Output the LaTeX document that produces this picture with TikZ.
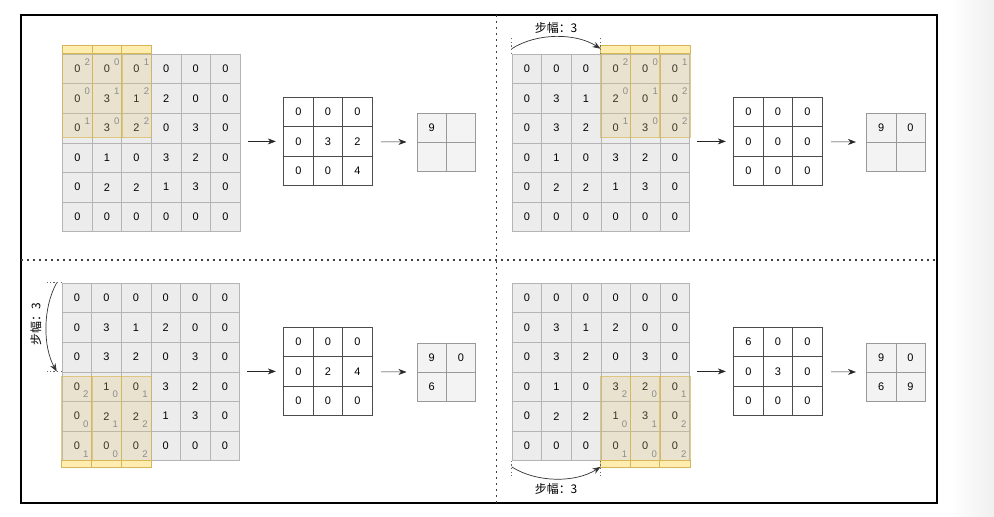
\documentclass[tikz,border=0pt]{standalone}
\usepackage{fontspec}
\setmainfont{Liberation Sans}
\newfontfamily\cjk{Noto Sans CJK SC}
\usetikzlibrary{arrows.meta, positioning, calc, fit}

\definecolor{cellgray}{RGB}{236,236,236}
\definecolor{cellline}{RGB}{180,180,180}
\definecolor{kfill}{RGB}{222,200,125}
\definecolor{khead}{RGB}{255,236,175}
\definecolor{kline}{RGB}{214,182,86}
\definecolor{outgray}{RGB}{243,243,243}

\tikzset{
  incell/.style={draw=cellline, fill=cellgray, minimum size=7.4mm, inner sep=0pt, font=\fontsize{7.8}{8}\selectfont},
  prodcell/.style={draw=black!70, fill=white, line width=0.6pt, minimum size=7.4mm, inner sep=0pt, font=\fontsize{7.8}{8}\selectfont},
  outcell/.style={draw=black!40, fill=outgray, minimum size=7.33mm, inner sep=0pt, font=\fontsize{7.8}{8}\selectfont},
  wt/.style={text=black!45, font=\fontsize{6.8}{7}\selectfont, inner sep=0pt},
  kbody/.style={draw=kline, draw opacity=0.7, fill=kfill, fill opacity=0.26},
  khead/.style={draw=kline, fill=khead},
  grp/.style={inner sep=0pt},
  arr/.style={->, black!85, shorten <=0.175cm, shorten >=0.175cm},
  arrb/.style={->, black!85, shorten <=0.2cm, shorten >=0.25cm},
  divider/.style={black!75, line width=0.8pt, dash pattern=on 0.05cm off 0.1cm},
  guide/.style={black!60, line width=0.6pt, dash pattern=on 0.03cm off 0.06cm},
  stridearc/.style={->, black!80, line width=0.5pt},
  stridelabel/.style={font=\cjk\fontsize{8.5}{9}\selectfont, inner sep=1pt}
}

% 6x6 input: name, left, top
\newcommand{\ingrid}[3]{%
  \foreach \row [count=\j] in {{0,0,0,0,0,0},{0,3,1,2,0,0},{0,3,2,0,3,0},{0,1,0,3,2,0},{0,2,2,1,3,0},{0,0,0,0,0,0}}
    \foreach \v [count=\i] in \row
      \node[incell] (#1-\i-\j) at (#2+29.6*\i-14.8, #3+29.6*\j-14.8) {\v};
  \node[fit=(#1-1-1)(#1-6-6), grp] (#1) {};
}
% 3x3 products: name, left, top, values
\newcommand{\prodgrid}[4]{%
  \foreach \row [count=\j] in {#4}
    \foreach \v [count=\i] in \row
      \node[prodcell] (#1-\i-\j) at (#2+29.6*\i-14.8, #3+29.6*\j-14.8) {\v};
  \node[fit=(#1-1-1)(#1-3-3), grp] (#1) {};
}
% 2x2 result: name, left, top, values
\newcommand{\outgrid}[4]{%
  \foreach \row [count=\j] in {#4}
    \foreach \v [count=\i] in \row
      \node[outcell] (#1-\i-\j) at (#2+29.3*\i-14.65, #3+29.3*\j-14.65) {\v};
  \node[fit=(#1-1-1)(#1-2-2), grp] (#1) {};
}
% kernel window, header on top: grid, first col, first row
\newcommand{\kerneltop}[3]{%
  \foreach \a in {0,1,2}{
    \pgfmathtruncatemacro\c{#2+\a}
    \pgfmathtruncatemacro\r{#3+2}
    \draw[kbody] ($(#1-\c-#3.north west)+(0,-8)$) rectangle ($(#1-\c-\r.south east)+(0,-6)$);
    \draw[khead] ($(#1-\c-#3.north west)+(0,-8)$) rectangle (#1-\c-#3.north east);
  }
  \foreach \wrow [count=\b] in {{2,0,1},{0,1,2},{1,0,2}}
    \foreach \w [count=\a] in \wrow {
      \pgfmathtruncatemacro\c{#2+\a-1}
      \pgfmathtruncatemacro\r{#3+\b-1}
      \node[wt] (#1-w-\a-\b) at ($(#1-\c-\r)+(10,-7)$) {\w};
    }
}
% kernel window, header below
\newcommand{\kernelbot}[3]{%
  \foreach \a in {0,1,2}{
    \pgfmathtruncatemacro\c{#2+\a}
    \pgfmathtruncatemacro\r{#3+2}
    \draw[kbody] ($(#1-\c-#3.north west)+(0,5)$) rectangle ($(#1-\c-\r.south east)+(0,6)$);
    \draw[khead] ($(#1-\c-\r.south west)+(0,-1)$) rectangle ($(#1-\c-\r.south east)+(0,6)$);
  }
  \foreach \wrow [count=\b] in {{2,0,1},{0,1,2},{1,0,2}}
    \foreach \w [count=\a] in \wrow {
      \pgfmathtruncatemacro\c{#2+\a-1}
      \pgfmathtruncatemacro\r{#3+\b-1}
      \node[wt] (#1-w-\a-\b) at ($(#1-\c-\r)+(9,8)$) {\w};
    }
}

\begin{document}
\begin{tikzpicture}[x=0.025cm, y=-0.025cm, >={Stealth[length=0.2cm, width=0.15cm]}]
  \useasboundingbox (0,0) rectangle (994,516);
  \shade[left color=white, right color=black!6] (950,0) rectangle (994,516);

  % frame and quarters
  \draw[line width=1.4pt] (20.7,14.7) rectangle (936.7,502.7);
  \draw[divider] (496.7,14.7) -- (496.7,502.7);
  \draw[divider] (20.7,260) -- (936.7,260);

  % top left
  \ingrid{tl}{62.5}{54}
  \kerneltop{tl}{1}{1}
  \prodgrid{tlp}{283.5}{97}{{0,0,0},{0,3,2},{0,0,4}}
  \outgrid{tlo}{417}{113}{{9,{}},{{},{}}}
  \draw[arr] (tl.east |- tlp.west) -- (tlp.west);
  \draw[arrb] (tlp) -- (tlo);

  % top right
  \ingrid{tr}{512}{54}
  \kerneltop{tr}{4}{1}
  \prodgrid{trp}{733.5}{97}{{0,0,0},{0,0,0},{0,0,0}}
  \outgrid{tro}{866.5}{113}{{9,0},{{},{}}}
  \draw[arr] (tr.east |- trp.west) -- (trp.west);
  \draw[arrb] (trp) -- (tro);
  % stride to the right
  \coordinate (trA) at ($(tr-1-1.north west)+(0,-5)$);
  \coordinate (trB) at ($(tr-4-1.north west)+(0,-5)$);
  \draw[guide] (tr-1-1.north west) -- ++(0,-17);
  \draw[guide] (tr-4-1.north west) -- ++(0,-17);
  \draw[stridearc] (trA) .. controls ($(trA)+(25,-16)$) and ($(trB)+(-25,-16)$) .. (trB);
  \node[stridelabel] (trl) at ($(trA)!.5!(trB)+(0,-21)$) {步幅：3};

  % bottom left
  \ingrid{bl}{62}{283}
  \kernelbot{bl}{1}{4}
  \prodgrid{blp}{283.5}{327}{{0,0,0},{0,2,4},{0,0,0}}
  \outgrid{blo}{417}{343}{{9,0},{6,{}}}
  \draw[arr] (bl.east |- blp.west) -- (blp.west);
  \draw[arrb] (blp) -- (blo);
  % stride downwards
  \coordinate (blA) at ($(bl-1-1.north west)+(-5,0)$);
  \coordinate (blB) at ($(bl-1-4.north west)+(-5,0)$);
  \draw[guide] (bl-1-1.north west) -- ++(-15,0);
  \draw[guide] (bl-1-4.north west) -- ++(-15,0);
  \draw[stridearc] (blA) .. controls ($(blA)+(-14,25)$) and ($(blB)+(-14,-25)$) .. (blB);
  \node[stridelabel, rotate=90] (bll) at ($(blA)!.5!(blB)+(-21,-3)$) {步幅：3};

  % bottom right
  \ingrid{br}{512}{283}
  \kernelbot{br}{4}{4}
  \prodgrid{brp}{733.5}{327}{{6,0,0},{0,3,0},{0,0,0}}
  \outgrid{bro}{866.5}{343}{{9,0},{6,9}}
  \draw[arr] (br.east |- brp.west) -- (brp.west);
  \draw[arrb] (brp) -- (bro);
  % stride to the right
  \coordinate (brA) at ($(br-1-6.south west)+(0,6)$);
  \coordinate (brB) at ($(br-4-6.south west)+(0,6)$);
  \draw[guide] (br-1-6.south west) -- ++(0,15);
  \draw[guide] (br-4-6.south west) -- ++(0,15);
  \draw[stridearc] (brA) .. controls ($(brA)+(25,16)$) and ($(brB)+(-25,16)$) .. (brB);
  \node[stridelabel] (brl) at ($(brA)!.5!(brB)+(0,22)$) {步幅：3};
\end{tikzpicture}
\end{document}
